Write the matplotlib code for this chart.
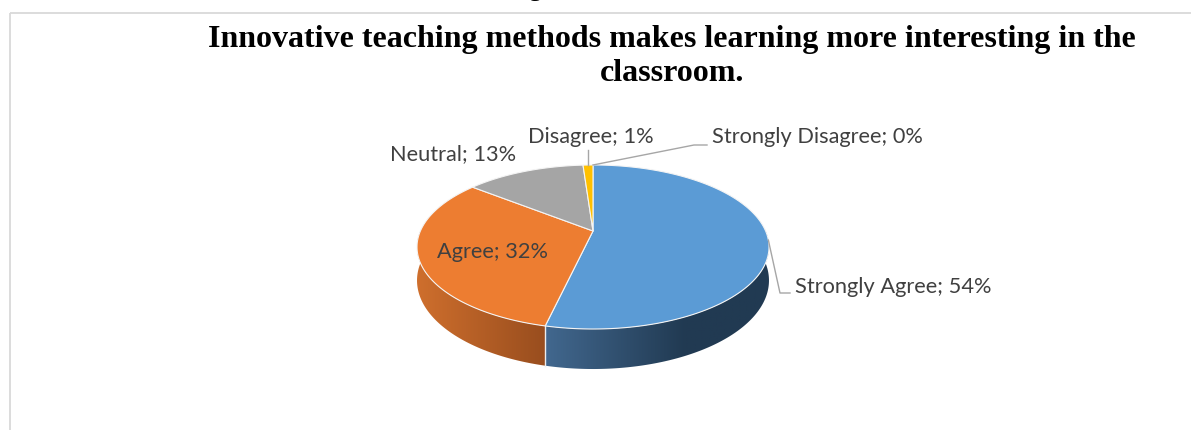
import numpy as np
import matplotlib
matplotlib.use("Agg")
import matplotlib.pyplot as plt
from matplotlib.patches import Polygon
from matplotlib.colors import to_rgb

# ---------------- data ----------------
categories = ["Strongly Agree", "Agree", "Neutral", "Disagree", "Strongly Disagree"]
values = [53.6, 32.1, 13.2, 1.1, 0.0]          # percent
top_colors = ["#5B9BD5", "#ED7D31", "#A5A5A5", "#FFC000", "#4472C4"]
side_light = ["#42688f", "#cf6f2d", "#8a8a8a", "#d9a300", "#3a62a8"]
side_dark = ["#213a52", "#984d1e", "#5c5c5c", "#9a7400", "#203a6e"]
side_gain = [1.6, 1.0, 1.0, 1.0, 1.0]

title_lines = ["Innovative teaching methods makes learning more interesting in the",
               "classroom."]

# ---------------- layout ----------------
W, H = 1191, 430
fig = plt.figure(figsize=(W / 100, H / 100), dpi=100)
ax = fig.add_axes([0, 0, 1, 1])
ax.axis("off")

CX, CY = 593.0, 231.0      # pie centre on screen
A, B, P = 172.6, 78.9, 0.195
DEPTH = 32.2


def rim(t_deg, drop=0.0):
    t = np.radians(t_deg)
    X, Y = np.cos(t), np.sin(t)
    w = 1 + P * Y
    return CX + A * X / w, CY - B * Y / w + drop * DEPTH / w


def lerp(c1, c2, f):
    a, b = np.array(to_rgb(c1)), np.array(to_rgb(c2))
    return a + (b - a) * f


total = sum(values)
cum = np.concatenate([[0], np.cumsum(values)]) / total
bounds = 90 - 360 * cum          # start angle of each slice, clockwise

# ---- side walls (front half only), gradient-filled ----
for i in range(len(values)):
    t0, t1 = bounds[i], bounds[i + 1]
    if t0 - t1 <= 0:
        continue
    ts = np.linspace(t0, t1, max(3, int((t0 - t1) / 0.25)))
    front = [t for t in ts if np.sin(np.radians(t)) < 0.02]
    if len(front) < 2:
        continue
    top = [rim(t) for t in front]
    bot = [rim(t, 1) for t in front[::-1]]
    poly = Polygon(top + bot, closed=True, facecolor="none", edgecolor="none",
                   transform=ax.transData)
    ax.add_patch(poly)
    xs = [p[0] for p in top + bot]
    ys = [p[1] for p in top + bot]
    xmin, xmax, ymin, ymax = min(xs), max(xs), min(ys), max(ys)
    ncol = 256
    fr = np.clip(np.linspace(0, 1, ncol) * side_gain[i], 0, 1)
    img = np.array([[lerp(side_light[i], side_dark[i], f) for f in fr]])
    im = ax.imshow(img, extent=(xmin - 1, xmax + 1, ymax + 1, ymin - 1),
                   aspect="auto", interpolation="bilinear", zorder=2)
    im.set_clip_path(poly)
    # light separator on the wall at the slice boundaries in front
    for tb in (t0, t1):
        if np.sin(np.radians(tb)) < -0.05:
            p, q = rim(tb), rim(tb, 1)
            ax.plot([p[0], q[0]], [p[1], q[1]], color="#f2f2f2", lw=0.9,
                    alpha=0.8, zorder=3)

# ---- top face ----
for i in range(len(values)):
    t0, t1 = bounds[i], bounds[i + 1]
    if t0 - t1 <= 0:
        continue
    ts = np.linspace(t0, t1, max(3, int((t0 - t1) / 0.5)))
    pts = [(CX, CY)] + [rim(t) for t in ts]
    ax.add_patch(Polygon(pts, closed=True, facecolor=top_colors[i],
                         edgecolor="#f4f4f4", lw=0.8, joinstyle="round",
                         zorder=4))

ax.set_xlim(0, W)
ax.set_ylim(H, 0)

# ---- labels ----
labels = [f"{c}; {round(v):.0f}%" for c, v in zip(categories, values)]
label_pos = [(795, 293), (437, 258), (390, 160), (528, 143), (712, 143)]
LABEL_FONT = ["Lato", "DejaVu Sans"]

renderer = fig.canvas.get_renderer()
probe = ax.text(0, 0, labels[0], fontsize=16, family=LABEL_FONT)
wpx = probe.get_window_extent(renderer).width
probe.remove()
label_fs = 16 * 197.0 / wpx

for lab, (x, y) in zip(labels, label_pos):
    ax.text(x, y, lab, fontsize=label_fs, family=LABEL_FONT, color="#404040",
            ha="left", va="baseline", zorder=6)

# ---- leader lines ----
LEAD = "#a6a6a6"
mid = [(bounds[i] + bounds[i + 1]) / 2 for i in range(len(values))]
sx, sy = rim(mid[0])
ax.plot([sx, 780, 790], [sy, 293, 293], color=LEAD, lw=1.0, zorder=5)
dx, dy = rim(mid[3])
ax.plot([dx, dx], [dy, 150], color=LEAD, lw=1.0, zorder=5)
zx, zy = rim(mid[4])
ax.plot([zx, 694, 707], [zy, 145, 145], color=LEAD, lw=1.0, zorder=5)

# ---- title ----
TITLE_FONT = ["Liberation Serif", "DejaVu Serif"]
probe = ax.text(0, 0, title_lines[0], fontsize=20, family=TITLE_FONT,
                fontweight="bold")
twpx = probe.get_window_extent(renderer).width
probe.remove()
title_fs = 20 * 928.0 / twpx
for line, yb in zip(title_lines, (47, 81)):
    ax.text(672, yb, line, fontsize=title_fs, family=TITLE_FONT,
            fontweight="bold", color="black", ha="center", va="baseline",
            zorder=6)

# cut-off glyph from the page above
ax.text(535, -4, "g", fontsize=title_fs * 0.8, family=TITLE_FONT,
        color="black", ha="center", va="baseline", zorder=6)

# ---- frame ----
ax.plot([10, W], [13, 13], color="#d9d9d9", lw=1.3, zorder=1,
        solid_capstyle="butt")
ax.plot([10, 10], [13, H], color="#d9d9d9", lw=1.3, zorder=1,
        solid_capstyle="butt")

fig.savefig("out.png", dpi=100, facecolor="white")
